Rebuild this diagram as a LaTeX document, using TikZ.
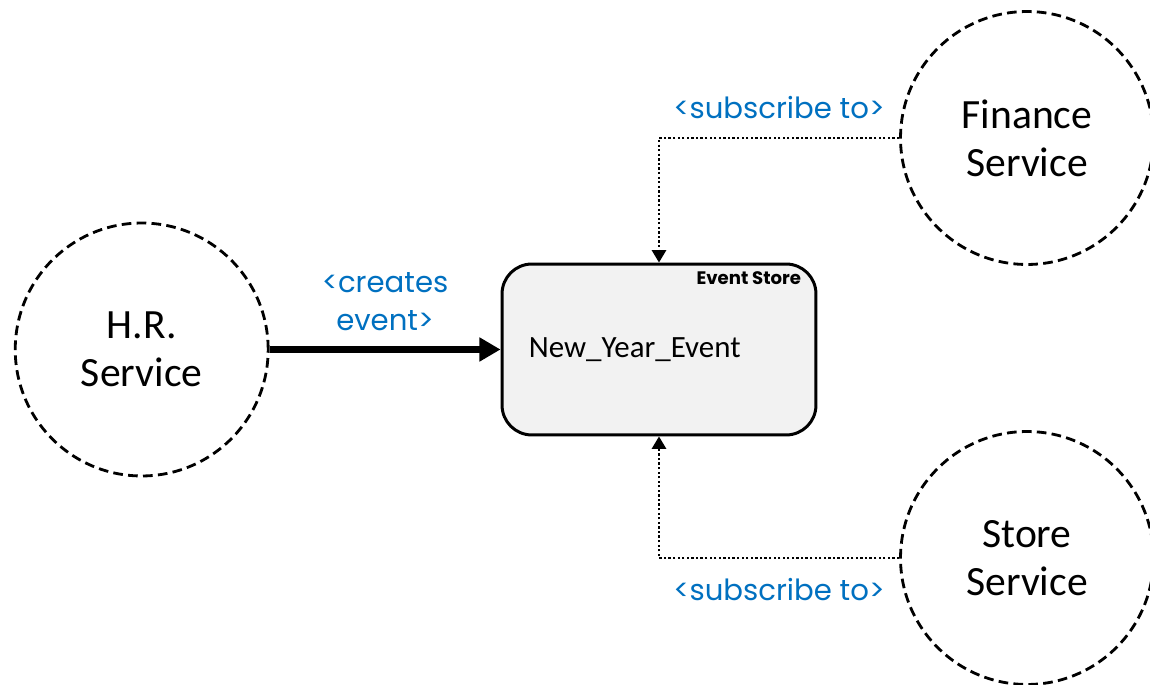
\documentclass[tikz,border=0pt]{standalone}
\usepackage{fontspec}
\setmainfont{Carlito}
\newfontfamily\labelfont{Poppins}
\usepackage{tikz}
\usetikzlibrary{arrows.meta,positioning}
\definecolor{lblblue}{HTML}{0070C0}
\definecolor{storefill}{HTML}{F2F2F2}

\begin{document}
\begin{tikzpicture}[
  x=0.02cm, y=-0.02cm,
  svc/.style={circle, draw, line width=1.6pt, dash pattern=on 5.5pt off 3pt,
              minimum size=5.06cm, inner sep=0pt, align=center,
              font=\fontsize{23.7}{27.5}\selectfont},
  store/.style={draw, line width=1.7pt, rounded corners=17pt, fill=storefill,
                minimum width=6.28cm, minimum height=3.42cm},
  flow/.style={-{Triangle[length=12pt,width=13pt]}, line width=4pt},
  sub/.style={-{Triangle[length=7pt,width=8pt]}, line width=1.3pt,
              dash pattern=on 1.3pt off 1.3pt},
  lbl/.style={font=\labelfont\fontsize{16.6}{22}\selectfont, text=lblblue,
              align=center, inner sep=0pt}
]
  \useasboundingbox (0,0) rectangle (1150,685);

  % Nodes
  \node[store] (es) at (659,349.5) {};
  \node[svc, left=4.62cm of es]  (hr)   {H.R.\\Service};
  \node[svc] at (1027,138)       (fin)  {Finance\\Service};
  \node[svc] at (1027,558)       (shop) {Store\\Service};

  % Event store contents
  \node[inner sep=0pt, font=\labelfont\bfseries\fontsize{10.3}{12}\selectfont,
        below left=0.17cm and 0.32cm of es.north east] (estitle) {Event Store};
  \node[inner sep=0pt, font=\fontsize{17.6}{20}\selectfont,
        right=0.56cm of es.west] (evt) {New\_Year\_Event};

  % Arrows
  \draw[flow] (hr.east) -- node[lbl, above=0.3cm] {<creates\\event>} (es.west);
  \draw[sub] (fin.west) -| node[lbl, pos=0.25, above=0.36cm] {<subscribe to>} (es.north);
  \draw[sub] (shop.west) -| node[lbl, pos=0.25, below=0.38cm] {<subscribe to>} (es.south);
\end{tikzpicture}
\end{document}
